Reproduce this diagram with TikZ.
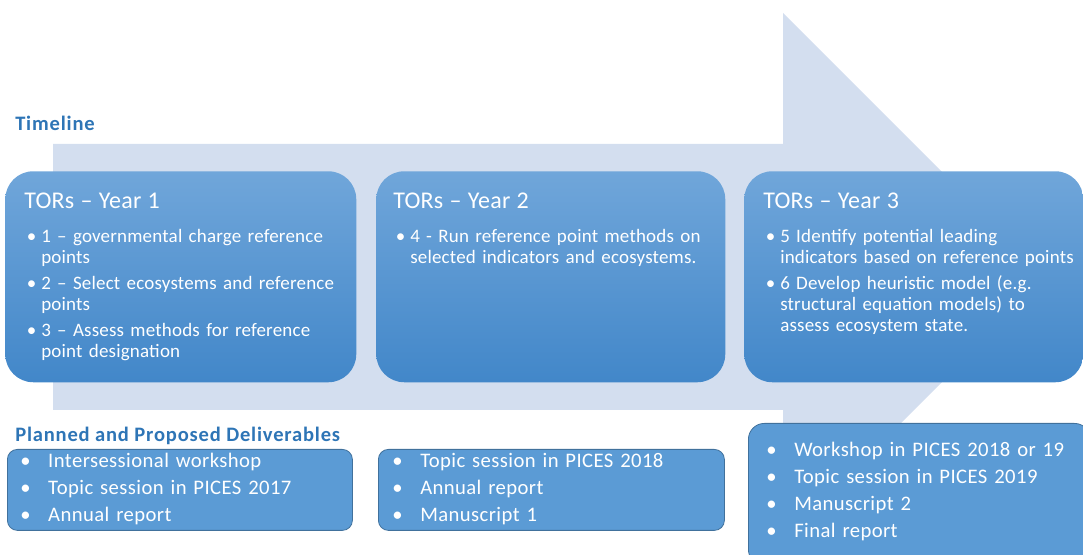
\documentclass[tikz,border=0pt]{standalone}
\usepackage{fontspec}
\setmainfont{Carlito}
\newfontfamily\widefont[LetterSpace=4]{Carlito}
\newfontfamily\delfont[LetterSpace=2]{Carlito}
\newfontfamily\torfont[LetterSpace=1]{Carlito}
\usetikzlibrary{positioning}

\definecolor{arrowbg}{RGB}{211,222,239}
\definecolor{torTop}{RGB}{112,166,218}
\definecolor{torBot}{RGB}{66,135,201}
\definecolor{delFill}{RGB}{91,155,213}
\definecolor{delLine}{RGB}{65,113,156}
\definecolor{headBlue}{RGB}{46,117,182}

\newcommand{\tbul}{\makebox[12.75pt][l]{\hspace{2pt}\textbullet}}
\newcommand{\tcont}{\hspace*{12.75pt}}
\newcommand{\dbul}{\makebox[21pt][l]{\textbullet}}

\begin{document}
\begin{tikzpicture}[x=0.75pt,y=-0.75pt,
  torbox/.style={rounded corners=21pt, top color=torTop, bottom color=torBot,
    anchor=north west, inner sep=0pt, minimum height=158.25pt},
  delbox/.style={draw=delLine, line width=0.6pt, fill=delFill, rounded corners=7.5pt,
    anchor=north west, inner sep=0pt},
  tortext/.style={anchor=base west, text=white, text width=250pt, align=left,
    inner sep=0pt, font=\torfont\fontsize{14.25pt}{15.75pt}\selectfont},
  deltext/.style={anchor=base west, text=white, text width=250pt, align=left,
    inner sep=0pt, font=\delfont\fontsize{15.5pt}{20.25pt}\selectfont},
  heading/.style={anchor=base west, inner sep=0pt, text=headBlue,
    font=\widefont\fontsize{15.4pt}{18pt}\selectfont\bfseries}]
\useasboundingbox (0,0) rectangle (1083,555);

% timeline arrow
\fill[arrowbg] (53,144) -- (783,144) -- (783,13) -- (1047,277) -- (783,541)
  -- (783,410) -- (53,410) -- cycle;

\node[heading] (timeline) at (15,131) {Timeline};

\node[torbox, minimum width=263.25pt] (tor1) at (5,171) {};
\node[torbox, minimum width=261.75pt] (tor2) at (376,171) {};
\node[torbox, minimum width=254.25pt] (tor3) at (744,171) {};

\node[tortext] (tor1txt) at (24,209)
  {{\fontsize{18pt}{15.75pt}\selectfont TORs – Year 1}\\[9.75pt]
   \tbul 1 – governmental charge reference\\
   \tcont points\\[3.5pt]
   \tbul 2 – Select ecosystems and reference\\
   \tcont points\\[3.5pt]
   \tbul 3 – Assess methods for reference\\
   \tcont point designation};

\node[tortext] (tor2txt) at (393,209)
  {{\fontsize{18pt}{15.75pt}\selectfont TORs – Year 2}\\[9.75pt]
   \tbul 4 - Run reference point methods on\\
   \tcont selected indicators and ecosystems.};

\node[tortext] (tor3txt) at (763,209)
  {{\fontsize{18pt}{15.75pt}\selectfont TORs – Year 3}\\[9.75pt]
   \tbul 5 Identify potential leading\\
   \tcont indicators based on reference points\\[3.5pt]
   \tbul 6 Develop heuristic model (e.g.\\
   \tcont structural equation models) to\\
   \tcont assess ecosystem state.};

\node[heading] (deliv) at (15,442) {Planned and Proposed Deliverables};

\node[delbox, minimum width=258.75pt, minimum height=60.75pt] (del1) at (7,449) {};
\node[delbox, minimum width=259.5pt, minimum height=60.75pt] (del2) at (378,449) {};
\node[delbox, rounded corners=12pt, minimum width=256.5pt, minimum height=106.5pt] (del3) at (748,423) {};

\node[deltext] (del1txt) at (20,468)
  {\dbul Intersessional workshop\\
   \dbul Topic session in PICES 2017\\
   \dbul Annual report};

\node[deltext] (del2txt) at (392,468)
  {\dbul Topic session in PICES 2018\\
   \dbul Annual report\\
   \dbul Manuscript 1};

\node[deltext] (del3txt) at (766,457)
  {\dbul Workshop in PICES 2018 or 19\\
   \dbul Topic session in PICES 2019\\
   \dbul Manuscript 2\\
   \dbul Final report};
\end{tikzpicture}
\end{document}
